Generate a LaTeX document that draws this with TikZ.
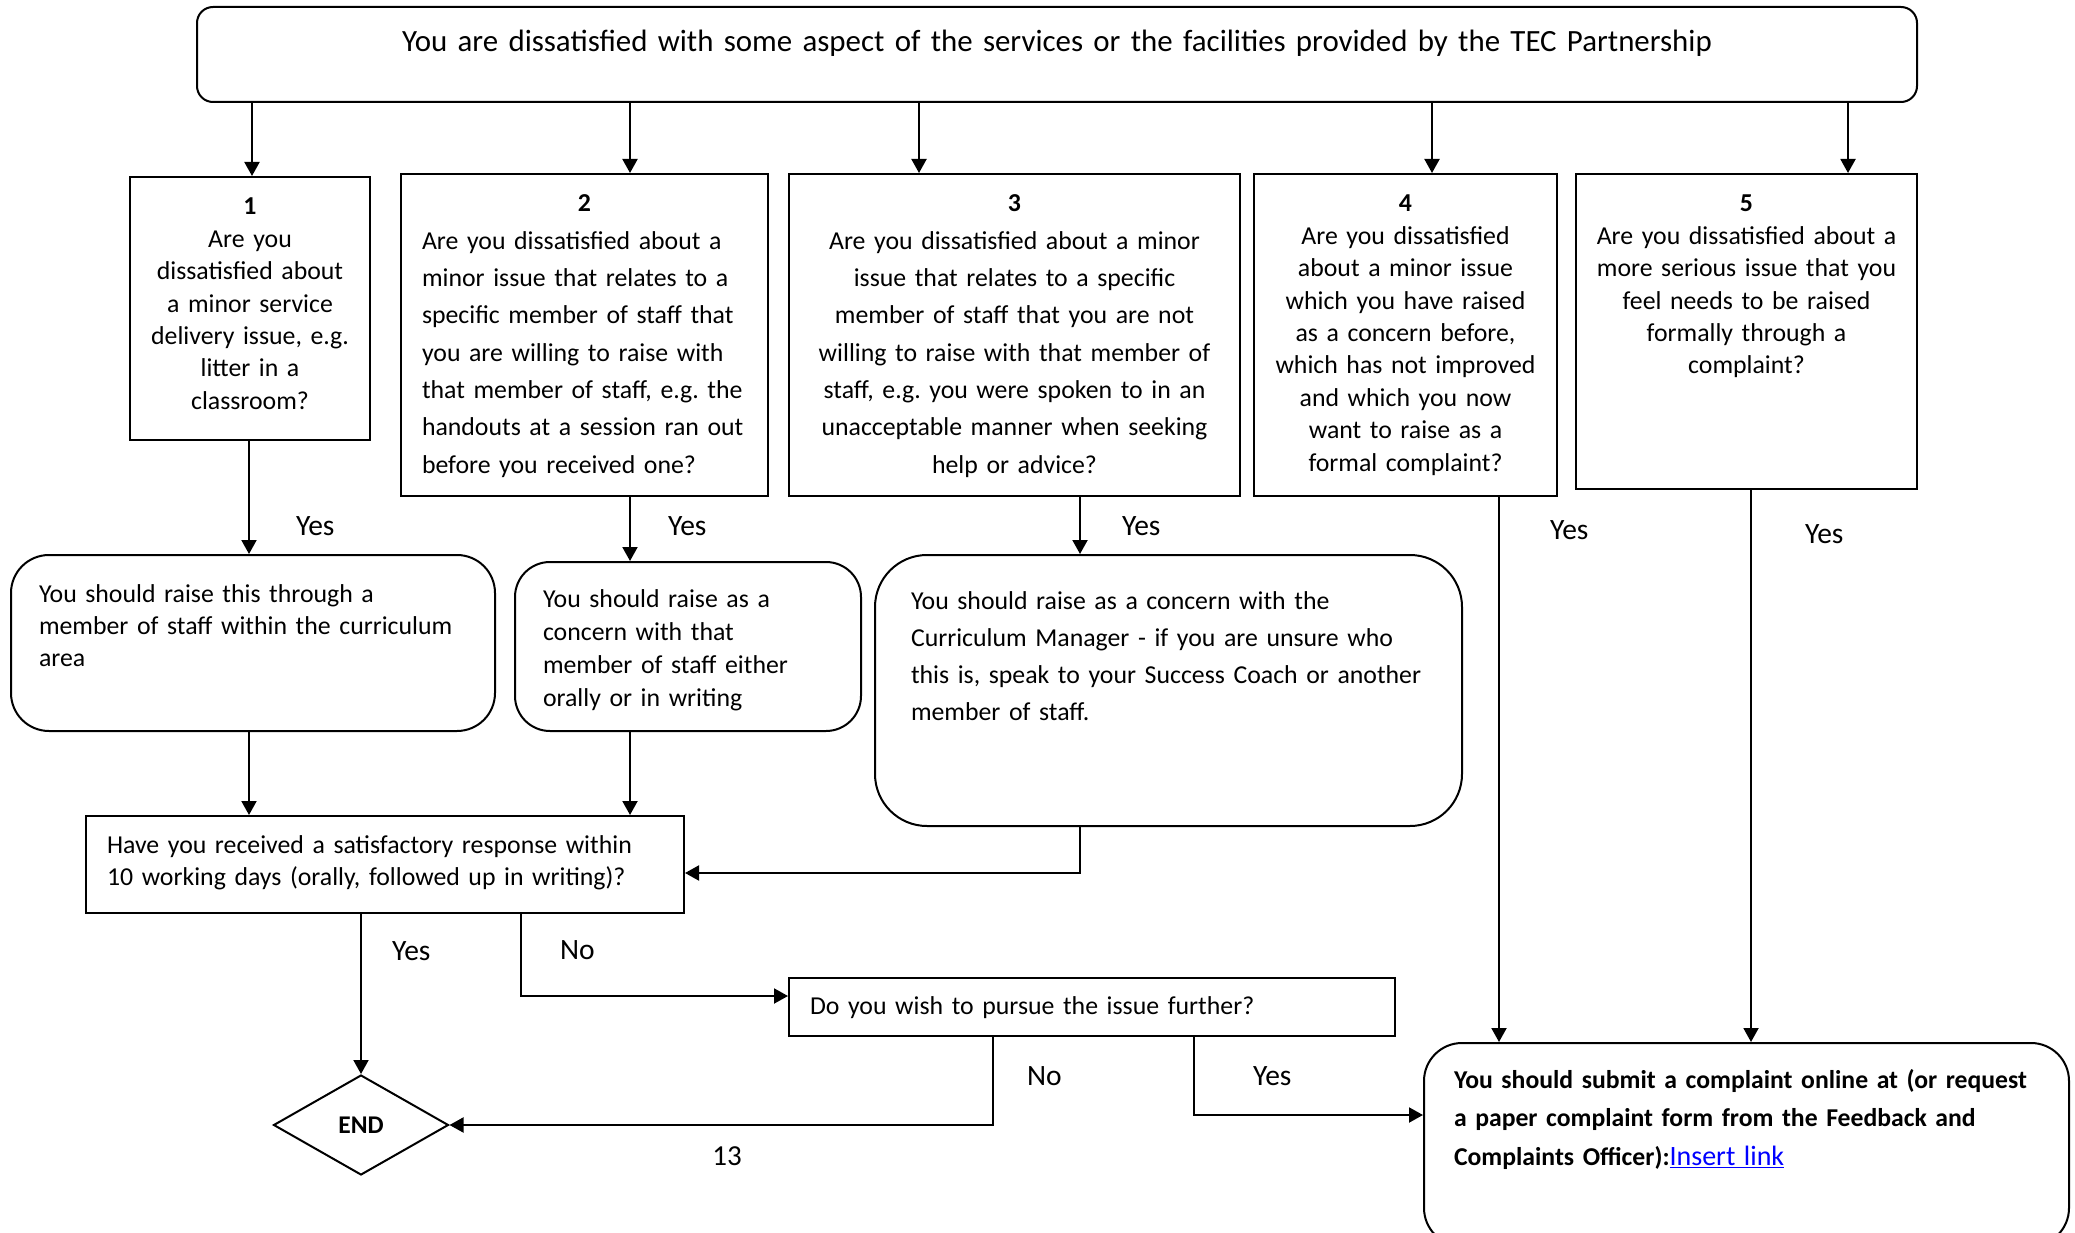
\documentclass[tikz,border=0pt]{standalone}
\usepackage{fontspec}
\setmainfont{Carlito}
\usepackage{tikz}
\usetikzlibrary{positioning,arrows.meta,calc}
\usetikzlibrary{shapes.geometric}
\frenchspacing
\hyphenpenalty=10000

\begin{document}
\begin{tikzpicture}[x=1pt,y=-1pt,>={Triangle[length=14pt,width=15pt]},line width=2pt]

  \tikzset{
    bx/.style={draw,anchor=north west,text height=18pt,font=\fontsize{25.8}{32.4}\selectfont},
    rc/.style={rounded corners=#1},
    lbl/.style={font=\fontsize{29.5}{34}\selectfont,inner sep=0pt,anchor=west},
  }

  \useasboundingbox (0,0) rectangle (2075,1233);

  \node[bx,rc=16pt,align=center,text width=1680pt,inner xsep=20pt,inner ysep=27pt,text depth=23pt,
        font=\fontsize{30.9}{36}\selectfont] (top) at (196,6)
    {You are dissatisfied with some aspect of the services or the facilities provided by the TEC Partnership};

  % QUESTIONS

  \node[bx,align=center,text width=226pt,inner xsep=7pt,inner ysep=20pt,text depth=205pt] (q1) at (129,176)
    {\textbf{1}\\Are you\\dissatisfied about\\a minor service\\delivery issue, e.g.\\litter in a\\classroom?};
  \node[bx,align=left,text width=325pt,inner xsep=21pt,inner ysep=20pt,text depth=264pt,
        font=\fontsize{25.8}{37.3}\selectfont] (q2) at (400,173)
    {\makebox[\linewidth]{\textbf{2}}\\Are you dissatisfied about a\\minor issue that relates to a\\specific member of staff that\\you are willing to raise with\\that member of staff, e.g. the\\handouts at a session ran out\\before you received one?};
  \node[bx,align=center,text width=431pt,inner xsep=10pt,inner ysep=20pt,text depth=264pt,
        font=\fontsize{25.8}{37.3}\selectfont] (q3) at (788,173)
    {\textbf{3}\\Are you dissatisfied about a minor\\issue that relates to a specific\\member of staff that you are not\\willing to raise with that member of\\staff, e.g. you were spoken to in an\\unacceptable manner when seeking\\help or advice?};
  \node[bx,align=center,text width=289pt,inner xsep=7pt,inner ysep=20pt,text depth=264pt] (q4) at (1253,173)
    {\textbf{4}\\Are you dissatisfied\\about a minor issue\\which you have raised\\as a concern before,\\which has not improved\\and which you now\\want to raise as a\\formal complaint?};
  \node[bx,align=center,text width=327pt,inner xsep=7pt,inner ysep=20pt,text depth=257pt] (q5) at (1575,173)
    {\textbf{5}\\Are you dissatisfied about a\\more serious issue that you\\feel needs to be raised\\formally through a\\complaint?};

  \coordinate (c1) at (252,0);
  \coordinate (c2) at (630,0);
  \coordinate (c3) at (919,0);
  \coordinate (c4) at (1432,0);
  \coordinate (c5) at (1848,0);

  \draw[->] (top.south -| c1) -- (q1.north -| c1);
  \draw[->] (top.south -| c2) -- (q2.north -| c2);
  \draw[->] (top.south -| c3) -- (q3.north -| c3);
  \draw[->] (top.south -| c4) -- (q4.north -| c4);
  \draw[->] (top.south -| c5) -- (q5.north -| c5);

  % ANSWERS

  \node[bx,rc=38pt,align=left,text width=428pt,inner xsep=28pt,inner ysep=29pt,text depth=100pt] (ansA) at (10,554)
    {You should raise this through a\\member of staff within the curriculum\\area};
  \node[bx,rc=35pt,align=left,text width=290pt,inner xsep=28pt,inner ysep=27pt,text depth=97pt,
        font=\fontsize{25.8}{33}\selectfont] (ansB) at (514,561)
    {You should raise as a\\concern with that\\member of staff either\\orally or in writing};
  \node[bx,rc=52pt,align=left,text width=515pt,inner xsep=36pt,inner ysep=36pt,text depth=181pt,
        font=\fontsize{25.8}{37}\selectfont] (ansC) at (874,554)
    {You should raise as a concern with the\\Curriculum Manager - if you are unsure who\\this is, speak to your Success Coach or another\\member of staff.};

  \coordinate (c1b) at (249,0);
  \coordinate (c3b) at (1080,0);
  \coordinate (c4b) at (1499,0);
  \coordinate (c5b) at (1751,0);

  \path[->] (q1.south -| c1b) edge node[lbl,pos=.75,xshift=46pt] {Yes} (ansA.north -| c1b);
  \path[->] (q2.south -| c2) edge node[lbl,pos=.45,xshift=37pt] {Yes} (ansB.north -| c2);
  \path[->] (q3.south -| c3b) edge node[lbl,pos=.51,xshift=41pt] {Yes} (ansC.north -| c3b);

  % RESPONSE

  \node[bx,align=left,text width=556pt,inner xsep=21pt,inner ysep=19pt,text depth=41pt] (sat) at (85,815)
    {Have you received a satisfactory response within\\10 working days (orally, followed up in writing)?};
  \node[bx,align=left,text width=564pt,inner xsep=21pt,inner ysep=18pt,text depth=4pt] (pursue) at (788,977)
    {Do you wish to pursue the issue further?};
  \node[draw,diamond,minimum width=175pt,minimum height=100pt,inner sep=0pt,
        font=\bfseries\fontsize{25.5}{28}\selectfont] (endd) at (361,1125) {END};
  \node[bx,rc=38pt,align=left,text width=585pt,inner xsep=30pt,inner ysep=27pt,text depth=131pt,
        font=\bfseries\fontsize{25.7}{38.7}\selectfont] (final) at (1423,1042)
    {You should submit a complaint online at (or request\\a paper complaint form from the Feedback and\\Complaints Officer):\textcolor{blue}{\mdseries\fontsize{28}{38.7}\selectfont\underline{Insert link}}};
  \node[font=\fontsize{29}{32}\selectfont] (pnum) at (727,1156) {13};

  \path[->] (ansA.south -| c1b) edge (sat.north -| c1b);
  \path[->] (ansB.south -| c2) edge (sat.north -| c2);
  \coordinate (jC) at (1080,873);
  \draw[->] (ansC.south -| jC) -- (jC) -- (sat.east |- jC);

  \path[->] (sat.south -| endd) edge node[lbl,pos=.23,xshift=30pt] {Yes} (endd.north);
  \coordinate (jN) at (521,996);
  \draw[->] (sat.south -| jN) -- node[lbl,pos=.44,xshift=38pt] {No} (jN) -- (pursue.west |- jN);

  \coordinate (jE) at (993,1125);
  \draw[->] (pursue.south -| jE) -- node[lbl,pos=.44,xshift=33pt] {No} (jE) -- (endd.east);
  \coordinate (jY) at (1194,1115);
  \draw[->] (pursue.south -| jY) -- node[lbl,pos=.5,xshift=58pt] {Yes} (jY) -- (final.west |- jY);

  \path[->] (q4.south -| c4b) edge node[lbl,pos=.06,xshift=50pt] {Yes} (final.north -| c4b);
  \path[->] (q5.south -| c5b) edge node[lbl,pos=.08,xshift=53pt] {Yes} (final.north -| c5b);

\end{tikzpicture}
\end{document}
